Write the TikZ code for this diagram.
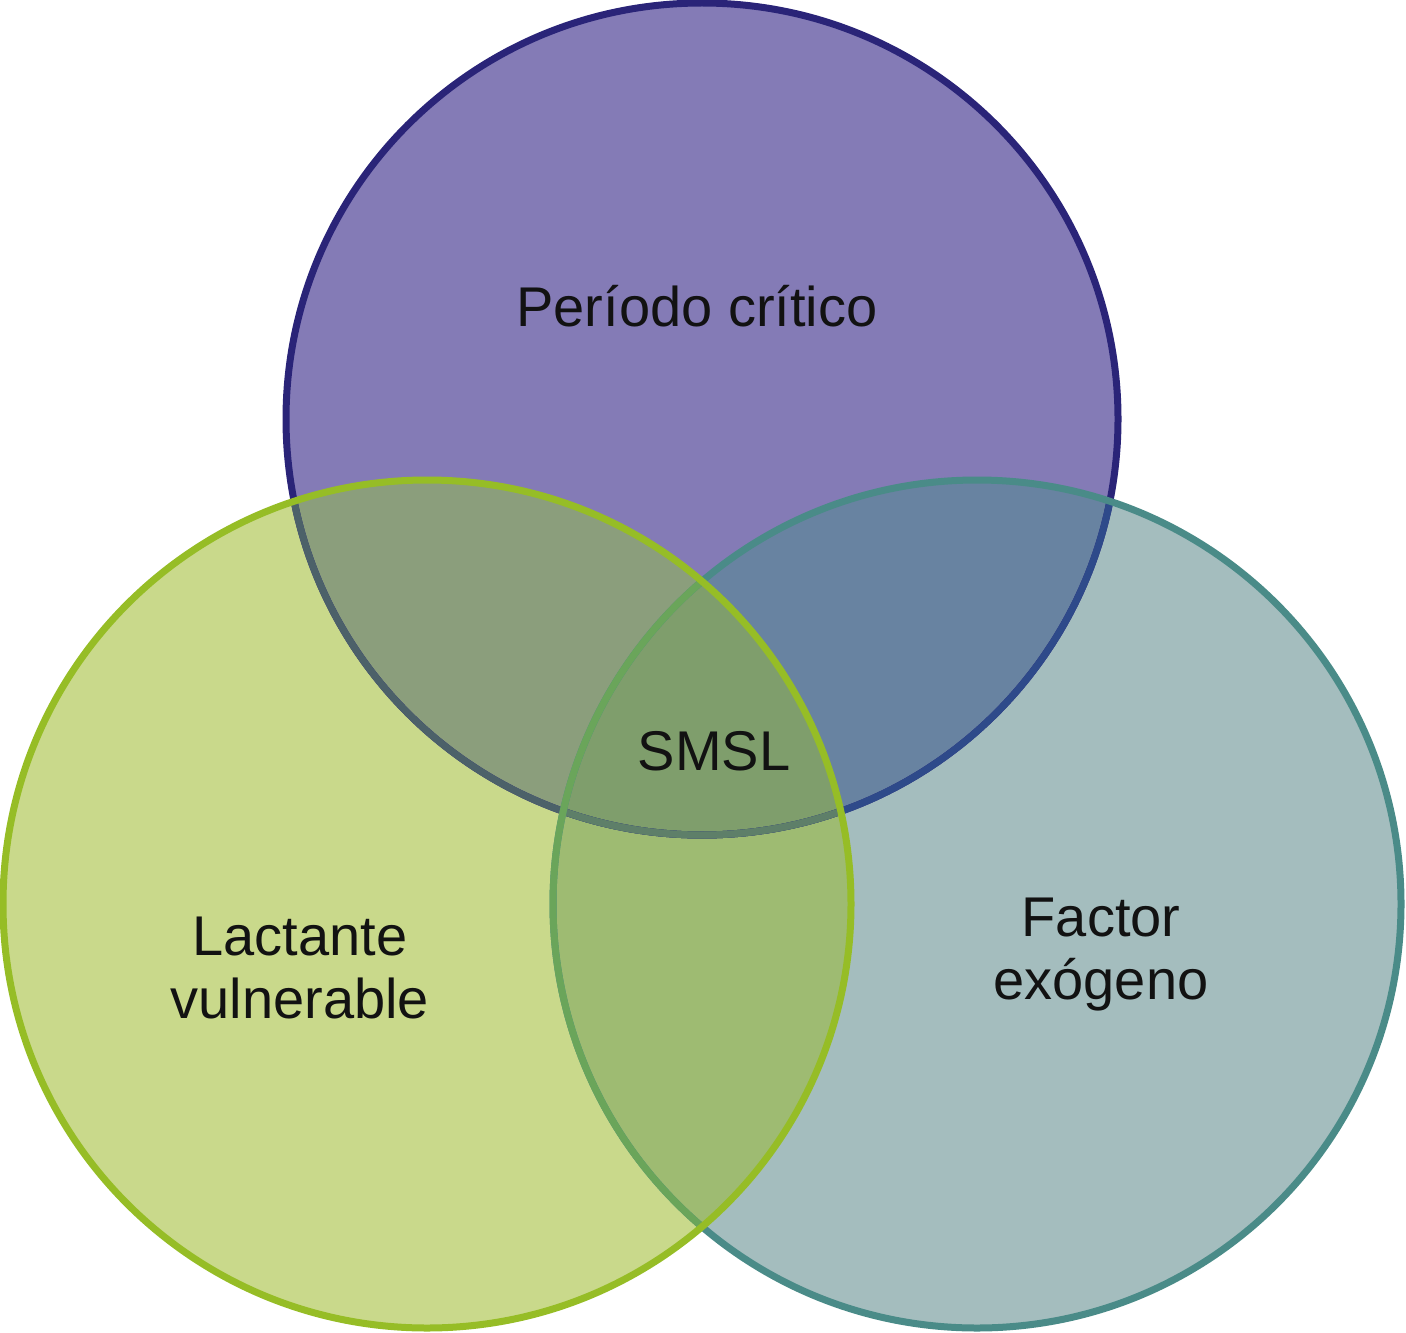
\documentclass[tikz,border=0pt]{standalone}
\usepackage{fontspec}
\setmainfont{Liberation Sans}
\definecolor{topfill}{HTML}{847BB6}
\definecolor{topline}{HTML}{2A2478}
\definecolor{rightfill}{HTML}{A4BDBE}
\definecolor{rightline}{HTML}{4A8B88}
\definecolor{leftfill}{HTML}{C9D98B}
\definecolor{leftline}{HTML}{96BD26}
\definecolor{tlfill}{HTML}{8B9E7C}
\definecolor{trfill}{HTML}{6883A1}
\definecolor{lrfill}{HTML}{9EBB72}
\definecolor{allfill}{HTML}{7F9E6C}
\definecolor{toplineR}{HTML}{2E4A8A}
\definecolor{toplineL}{HTML}{4C6169}
\definecolor{toplineLR}{HTML}{5E7F69}
\definecolor{rightlineL}{HTML}{6AA55A}
\begin{document}
\begin{tikzpicture}[x=0.5pt,y=-0.5pt,
  ring/.style={line width=3.5pt},
  lbl/.style={font=\fontsize{28pt}{31.5pt}\selectfont, text=black!93, align=center, inner sep=0pt}]
\useasboundingbox (0,0) rectangle (1406,1332);
\def\Tc{(702,419) circle[radius=208pt]}
\def\Lc{(427,904) circle[radius=212pt]}
\def\Rc{(977,904) circle[radius=212pt]}
% fills
\fill[topfill] \Tc;
\fill[rightfill] \Rc;
\fill[leftfill] \Lc;
\begin{scope}\clip \Tc; \fill[trfill] \Rc; \fill[tlfill] \Lc; \end{scope}
\begin{scope}\clip \Lc; \fill[lrfill] \Rc;
  \begin{scope}\clip \Tc; \fill[allfill] \Rc; \end{scope}
\end{scope}
% top ring
\draw[ring,topline] \Tc;
\begin{scope}\clip \Rc; \draw[ring,toplineR] \Tc; \end{scope}
\begin{scope}\clip \Lc; \draw[ring,toplineL] \Tc;
  \begin{scope}\clip \Rc; \draw[ring,toplineLR] \Tc; \end{scope}
\end{scope}
% right ring
\draw[ring,rightline] \Rc;
\begin{scope}\clip \Lc; \draw[ring,rightlineL] \Rc; \end{scope}
% left ring
\draw[ring,leftline] \Lc;
% labels
\node[lbl,anchor=base] (periodo) at (697,326) {Período crítico};
\node[lbl,anchor=base] (smsl) at (714,770) {SMSL};
\node[lbl] (lactante) at (300,968) {Lactante\\vulnerable};
\node[lbl] (factor) at (1101,955) {Factor\\exógeno};
\end{tikzpicture}
\end{document}
